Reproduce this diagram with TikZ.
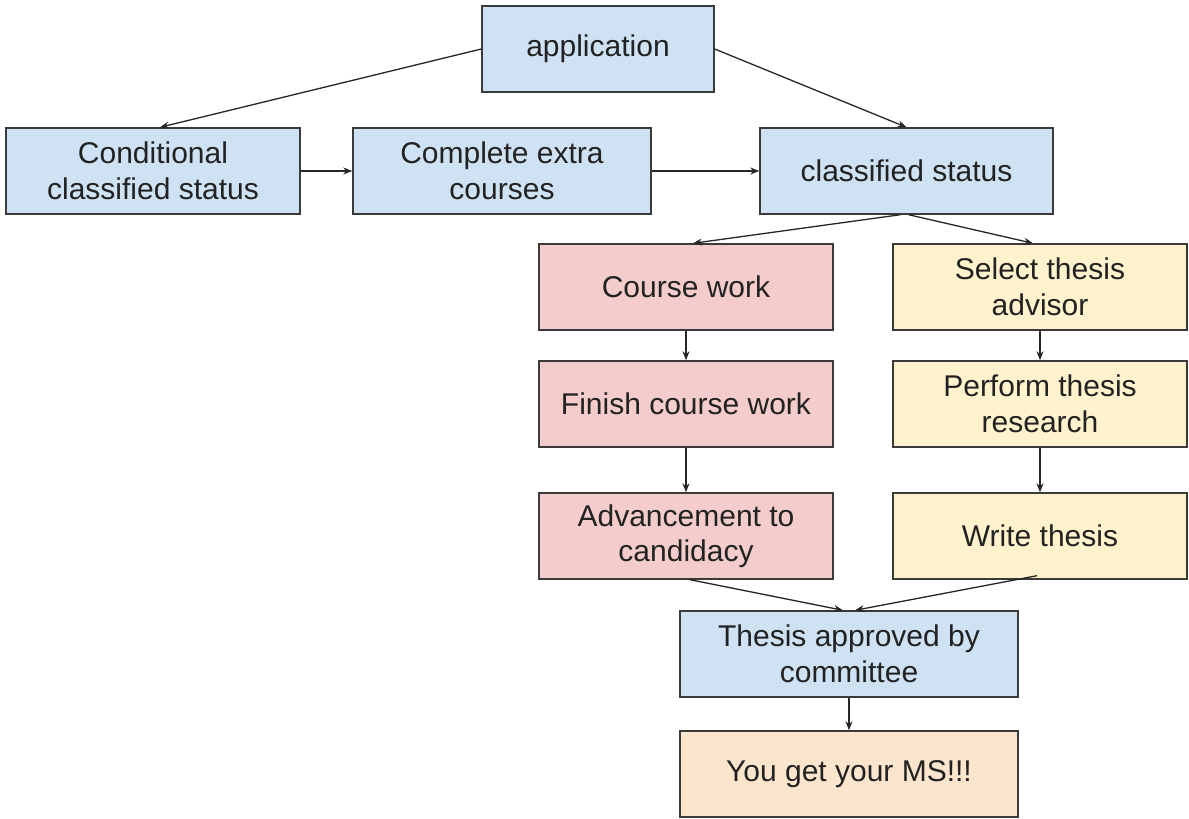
\documentclass[tikz,border=0pt]{standalone}
\usepackage{fontspec}
\setmainfont{Liberation Sans}
\usetikzlibrary{arrows.meta}
\definecolor{bblue}{HTML}{CFE2F3}
\definecolor{bpink}{HTML}{F4CCCC}
\definecolor{byellow}{HTML}{FFF2CC}
\definecolor{borange}{HTML}{FCE5CD}
\definecolor{bline}{HTML}{3A3A3A}
\definecolor{btext}{HTML}{222222}
\tikzset{
  box/.style={draw=bline, line width=1.4pt, minimum height=86pt, inner sep=0pt,
    align=center, text=btext, font=\fontsize{30}{35.5}\selectfont},
  blue/.style={box, fill=bblue},
  pink/.style={box, fill=bpink},
  yellow/.style={box, fill=byellow},
  orange/.style={box, fill=borange},
  conn/.style={draw=black!85, line width=1.3pt, -{Stealth[length=9pt,width=7pt]}}
}
\begin{document}
\begin{tikzpicture}[x=1pt,y=-1pt]
\useasboundingbox[fill=white] (0,0) rectangle (1189,819);
\node[blue, minimum width=232pt] (app) at (598,49) {application};
\node[blue, minimum width=294pt] (cond) at (153,171) {Conditional\\classified status};
\node[blue, minimum width=298pt] (extra) at (502,171) {Complete extra\\courses};
\node[blue, minimum width=293pt] (cls) at (906.5,171) {classified status};
\node[pink, minimum width=294pt] (cw) at (686,287) {Course work};
\node[yellow, minimum width=294pt] (sel) at (1040,287) {Select thesis\\advisor};
\node[pink, minimum width=294pt] (fin) at (686,404) {Finish course work};
\node[yellow, minimum width=294pt] (per) at (1040,404) {Perform thesis\\research};
\node[pink, minimum width=294pt] (adv) at (686,536) {Advancement to\\candidacy};
\node[yellow, minimum width=294pt] (wt) at (1040,536) {Write thesis};
\node[blue, minimum width=338pt] (ta) at (849,654) {Thesis approved by\\committee};
\node[orange, minimum width=338pt] (ms) at (849,774) {You get your MS!!!};

\draw[conn] (app.west) -- ([xshift=7pt]cond.north);
\draw[conn] (app.east) -- (cls.north);
\draw[conn] (cond.east) -- (extra.west);
\draw[conn] (extra.east) -- (cls.west);
\draw[conn] ([xshift=-6pt]cls.south) -- ([xshift=7pt]cw.north);
\draw[conn] ([xshift=2pt]cls.south) -- ([xshift=-7pt]sel.north);
\draw[conn] (cw.south) -- (fin.north);
\draw[conn] (fin.south) -- (adv.north);
\draw[conn] (sel.south) -- (per.north);
\draw[conn] (per.south) -- (wt.north);
\draw[conn] ([xshift=4pt]adv.south) -- ([xshift=-6pt]ta.north);
\draw[conn] ([xshift=-3pt,yshift=4pt]wt.south) -- ([xshift=6pt]ta.north);
\draw[conn] (ta.south) -- (ms.north);
\end{tikzpicture}
\end{document}
